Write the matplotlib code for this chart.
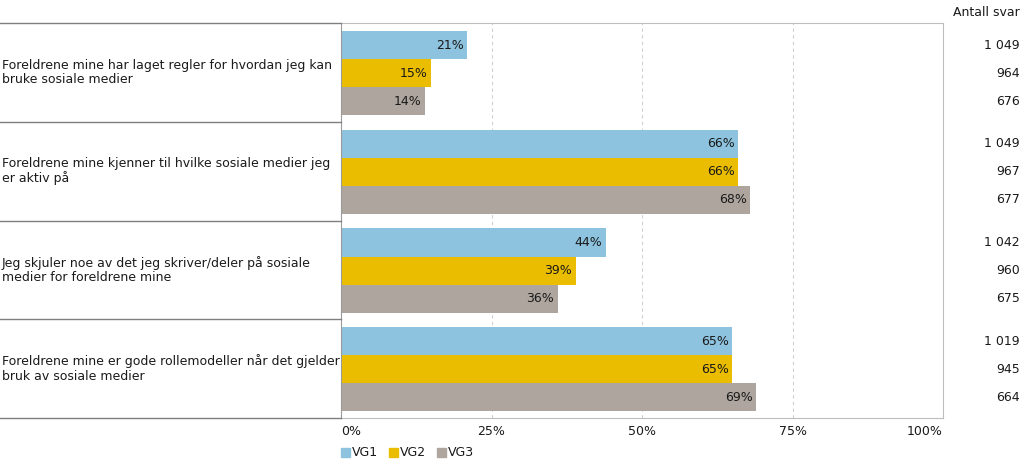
import matplotlib
matplotlib.use("Agg")
import matplotlib.pyplot as plt
from matplotlib.transforms import blended_transform_factory
from matplotlib.patches import Rectangle

categories = [
    "Foreldrene mine har laget regler for hvordan jeg kan\nbruke sosiale medier",
    "Foreldrene mine kjenner til hvilke sosiale medier jeg\ner aktiv på",
    "Jeg skjuler noe av det jeg skriver/deler på sosiale\nmedier for foreldrene mine",
    "Foreldrene mine er gode rollemodeller når det gjelder\nbruk av sosiale medier",
]
series_names = ["VG1", "VG2", "VG3"]
vg1 = [21, 66, 44, 65]
vg2 = [15, 66, 39, 65]
vg3 = [14, 68, 36, 69]
counts_vg1 = ["1 049", "1 049", "1 042", "1 019"]
counts_vg2 = ["964", "967", "960", "945"]
counts_vg3 = ["676", "677", "675", "664"]
x_ticks = [0, 25, 50, 75, 100]
x_tick_labels = ["0%", "25%", "50%", "75%", "100%"]
colors = ["#8DC3DF", "#EABD00", "#ADA59E"]

plt.rcParams['font.family'] = ['DejaVu Sans']
FS = 9

W, H = 1024, 463
fig = plt.figure(figsize=(W / 100, H / 100), dpi=100)

x0, x1 = 341, 943
y0, y1 = 23, 418
ax = fig.add_axes([x0 / W, (H - y1) / H, (x1 - x0) / W, (y1 - y0) / H])
axl = fig.add_axes([0, (H - y1) / H, x0 / W, (y1 - y0) / H])

n = len(categories)
bh = 0.284
values = [vg1, vg2, vg3]
counts = [counts_vg1, counts_vg2, counts_vg3]
trans_r = blended_transform_factory(fig.transFigure, ax.transData)
for j, (vals, col, cnts) in enumerate(zip(values, colors, counts)):
    ys = [i + 0.507 + (j - 1) * bh for i in range(n)]
    ax.barh(ys, vals, height=bh, color=col, edgecolor='none', zorder=2)
    for y, v, c in zip(ys, vals, cnts):
        ax.text(v - 0.6, y, f"{v}%", ha='right', va='center', fontsize=FS, color='#1a1a1a', zorder=3)
        ax.text(1020 / W, y, c, ha='right', va='center', fontsize=FS, color='#1a1a1a', transform=trans_r)

fig.text(1020 / W, 1 - 12 / H, "Antall svar", ha='right', va='center', fontsize=FS, color='#1a1a1a')

ax.set_xlim(0, 100)
ax.set_ylim(n, 0)
ax.set_yticks([])
ax.set_xticks(x_ticks)
ax.set_xticklabels([])
for t in [25, 50, 75]:
    ax.axvline(t, color='#D0D0D0', lw=0.8, ls=(0, (3, 3)), zorder=1)
for s in ['top', 'right', 'bottom']:
    ax.spines[s].set_color('#BDBDBD')
    ax.spines[s].set_linewidth(0.8)
ax.spines['left'].set_color('#9A9A9A')
ax.spines['left'].set_linewidth(0.8)
ax.tick_params(axis='x', length=0)

has = ['left', 'center', 'center', 'center', 'right']
for t, lab, ha in zip(x_ticks, x_tick_labels, has):
    ax.text(t, n + 0.14, lab, ha=ha, va='center', fontsize=FS, color='#1a1a1a', clip_on=False)

# left label panel
axl.set_xlim(0, 1)
axl.set_ylim(n, 0)
axl.axis('off')
for i in range(n + 1):
    axl.axhline(i, color='#7F7F7F', lw=1.0, clip_on=False)
for i, cat in enumerate(categories):
    axl.text(0.006, i + 0.5, cat, ha='left', va='center', fontsize=FS, color='#1a1a1a', linespacing=1.15)

# legend
lx = 341
ly = 452
for j, (name, col) in enumerate(zip(series_names, colors)):
    bx = lx + j * 48
    fig.patches.append(Rectangle((bx / W, 1 - (ly + 4.5) / H), 9 / W, 9 / H,
                                 transform=fig.transFigure, color=col, figure=fig))
    fig.text((bx + 11) / W, 1 - ly / H, name, ha='left', va='center', fontsize=FS, color='#1a1a1a')

fig.savefig("out.png", dpi=100)
